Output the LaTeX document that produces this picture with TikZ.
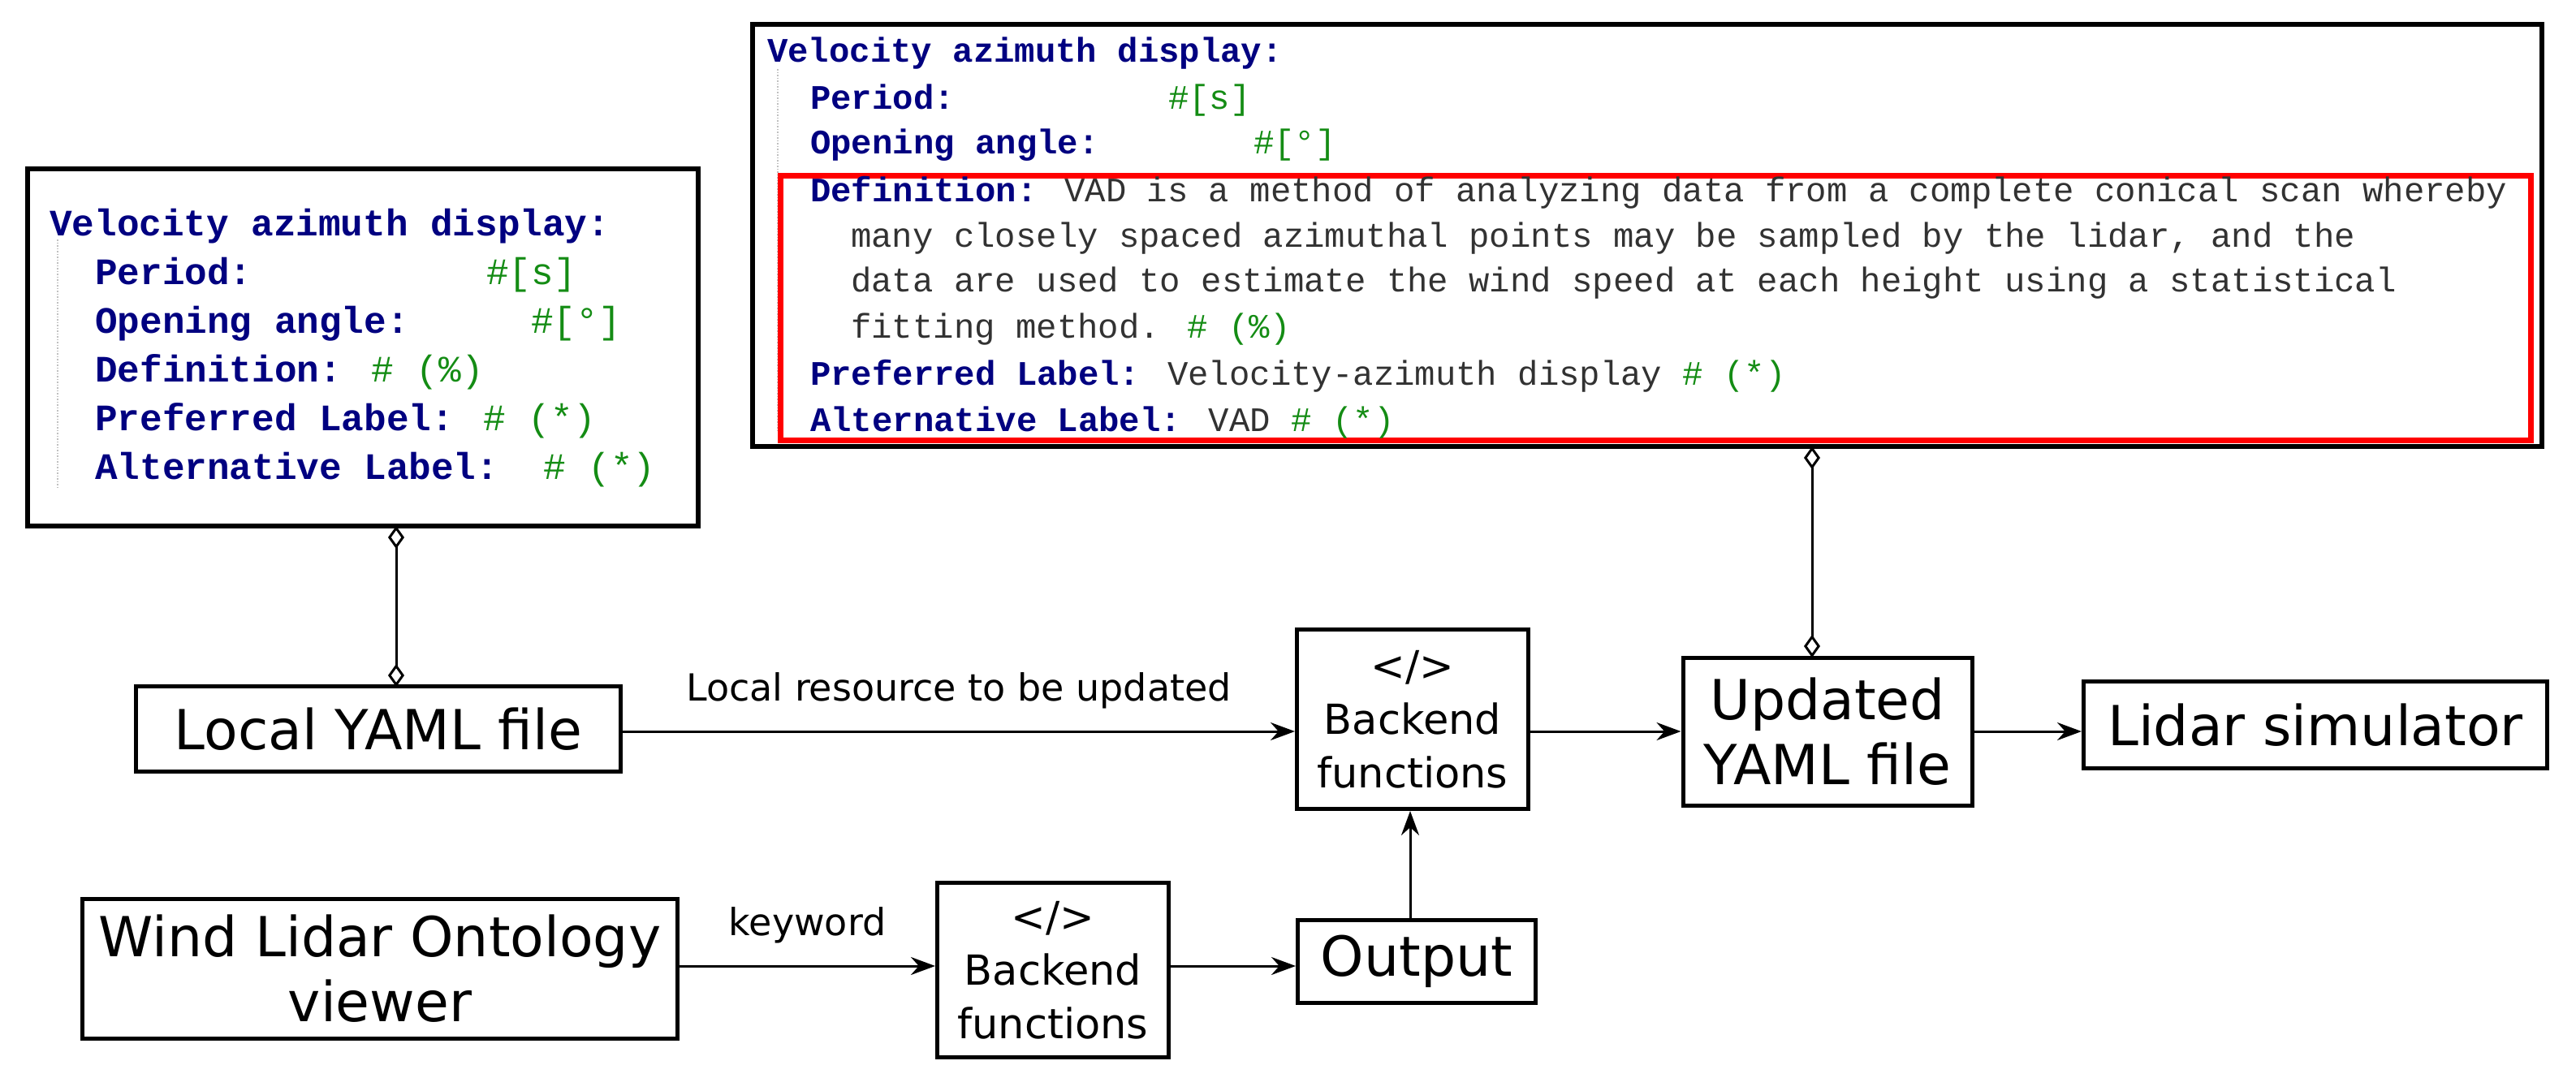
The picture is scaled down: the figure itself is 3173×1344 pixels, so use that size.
\documentclass[tikz,border=0pt]{standalone}
\usepackage{fontspec}
\setmainfont{DejaVu Sans}
\newfontfamily\codefont{Liberation Mono}
\usetikzlibrary{arrows.meta}
\definecolor{kw}{RGB}{0,0,128}
\definecolor{cm}{RGB}{20,140,20}
\definecolor{tx}{RGB}{50,50,50}
\begin{document}
\begin{tikzpicture}[x=1pt,y=-1pt,
  box/.style={draw,line width=6pt,inner sep=0pt},
  blk/.style={draw,line width=5pt,align=center,inner sep=0pt},
  big/.style={font=\fontsize{68}{80}\selectfont},
  small/.style={font=\fontsize{51}{66}\selectfont},
  cl/.style={anchor=base west,inner sep=0pt,font=\codefont\fontsize{46}{46}\selectfont},
  ct/.style={anchor=base west,inner sep=0pt,font=\codefont\fontsize{42.3}{43}\selectfont},
  arr/.style={line width=3pt,-{Stealth[length=30pt,width=22pt]}},
  agg/.style={line width=3pt,{Diamond[open,length=28pt,width=20pt]}-{Diamond[open,length=28pt,width=20pt]}},
  lbl/.style={font=\fontsize{46}{50}\selectfont,inner sep=0pt}]
\useasboundingbox (0,0) rectangle (3173,1344);
% left code box
\node[box,minimum width=826pt,minimum height=440pt] (lb) at (447,428) {};
\draw[gray!50,dotted,line width=1.5pt] (71,295) -- (71,600);
\node[cl] (l1) at (61,290) {\bfseries\color{kw}Velocity azimuth display:};
\node[cl] (l2) at (117,350) {\bfseries\color{kw}Period:};
\node[cl] (l2v) at (599,350) {\color{cm}\#[s]};
\node[cl] (l3) at (117,410) {\bfseries\color{kw}Opening angle:};
\node[cl] (l3v) at (654,410) {\color{cm}\#[°]};
\node[cl] (l4) at (117,470) {{\bfseries\color{kw}Definition:} \color{cm}\# (\%)};
\node[cl] (l5) at (117,530) {{\bfseries\color{kw}Preferred Label:} \color{cm}\# (*)};
\node[cl] (l6) at (117,590) {{\bfseries\color{kw}Alternative Label:}\ \ \color{cm}\# (*)};
% top code box
\node[box,minimum width=2204pt,minimum height=520pt] (tb) at (2029,290) {};
\draw[gray!50,dotted,line width=1.5pt] (958,85) -- (958,530);
\node[draw=red,line width=7pt,minimum width=2156pt,minimum height=326pt,inner sep=0pt] (rb) at (2039,379) {};
\node[ct] (t1) at (945,76) {\bfseries\color{kw}Velocity azimuth display:};
\node[ct] (t2) at (998,134) {\bfseries\color{kw}Period:};
\node[ct] (t2v) at (1439,134) {\color{cm}\#[s]};
\node[ct] (t3) at (998,189) {\bfseries\color{kw}Opening angle:};
\node[ct] (t3v) at (1544,189) {\color{cm}\#[°]};
\node[ct] (t4) at (998,248) {{\bfseries\color{kw}Definition:} \color{tx}VAD is a method of analyzing data from a complete conical scan whereby};
\node[ct] (t5) at (1048,304) {\color{tx}many closely spaced azimuthal points may be sampled by the lidar, and the};
\node[ct] (t6) at (1048,359) {\color{tx}data are used to estimate the wind speed at each height using a statistical};
\node[ct] (t7) at (1048,416) {{\color{tx}fitting method.} \color{cm}\# (\%)};
\node[ct] (t8) at (998,474) {{\bfseries\color{kw}Preferred Label:} {\color{tx}Velocity-azimuth display} \color{cm}\# (*)};
\node[ct] (t9) at (998,531) {{\bfseries\color{kw}Alternative Label:} {\color{tx}VAD} \color{cm}\# (*)};
% blocks
\node[blk,big,minimum width=597pt,minimum height=105pt] (ly) at (466,898) {Local YAML file};
\node[blk,small,minimum width=285pt,minimum height=221pt] (b1) at (1740,886) {</>\\Backend\\functions};
\node[blk,big,minimum width=356pt,minimum height=182pt] (uy) at (2251,901) {Updated\\YAML file};
\node[blk,big,minimum width=571pt,minimum height=107pt] (ls) at (2852,893) {Lidar simulator};
\node[blk,big,minimum width=733pt,minimum height=172pt] (wl) at (468,1193) {Wind Lidar Ontology\\viewer};
\node[blk,small,minimum width=285pt,minimum height=215pt] (b2) at (1297,1195) {</>\\Backend\\functions};
\node[blk,big,minimum width=293pt,minimum height=102pt] (op) at (1745,1184) {Output};
% connectors
\coordinate (la) at (488,648);
\coordinate (lyt) at (488,846);
\draw[agg] (la) -- (lyt);
\coordinate (ta) at (2232,550);
\coordinate (uyt) at (2232,810);
\draw[agg] (ta) -- (uyt);
\draw[arr] (ly.east |- 0,901) -- node[lbl,above=26pt] {Local resource to be updated} (b1.west |- 0,901);
\draw[arr] (b1.east |- 0,901) -- (uy.west |- 0,901);
\draw[arr] (uy.east |- 0,901) -- (ls.west |- 0,901);
\draw[arr] (wl.east |- 0,1190) -- node[lbl,above=26pt] {keyword} (b2.west |- 0,1190);
\draw[arr] (b2.east |- 0,1190) -- (op.west |- 0,1190);
\draw[arr] (op.north -| 1737,0) -- (b1.south -| 1737,0);
\end{tikzpicture}
\end{document}
